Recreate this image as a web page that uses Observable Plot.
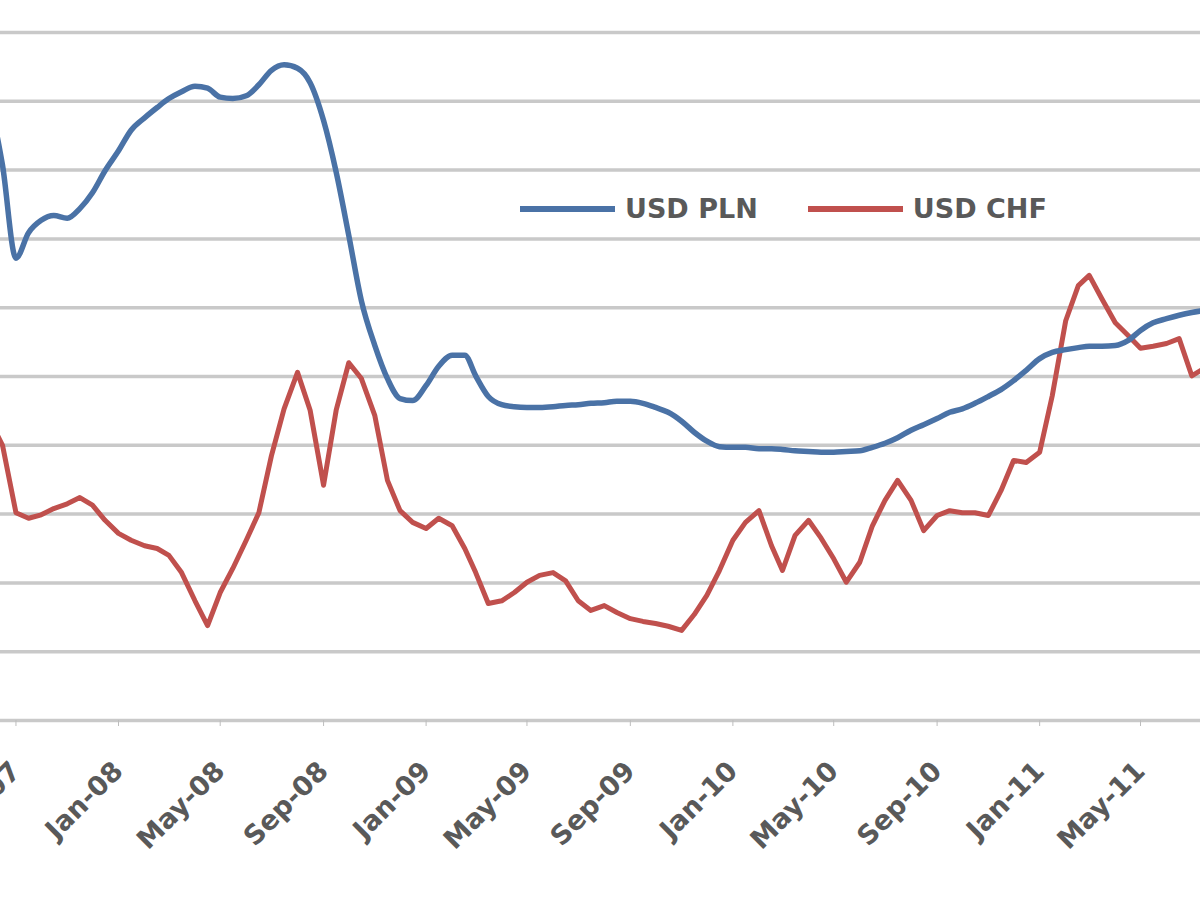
<!DOCTYPE html>
<html>
<head>
<meta charset="utf-8">
<script src="https://cdn.jsdelivr.net/npm/d3@7"></script>
<script src="https://cdn.jsdelivr.net/npm/@observablehq/plot@0.6"></script>
<style>
  html, body { margin: 0; padding: 0; background: #fff; }
  #wrap { position: relative; width: 1200px; height: 923px; overflow: hidden; }
  #wrap svg { overflow: hidden; display: block; }
  #legend { position: absolute; left: 520px; top: 193px; display: flex; align-items: center;
            font-family: "DejaVu Sans", sans-serif; font-weight: bold; font-size: 27px; color: #595959; }
  .sw { display: inline-block; width: 95px; height: 6px; margin-right: 10px; }
  .item { display: flex; align-items: center; margin-right: 50px; }
</style>
</head>
<body>
<div id="wrap">
  <div id="chart"></div>
  <div id="legend"></div>
</div>
<script>
// Series names
const seriesNames = ["USD PLN", "USD CHF"];
const seriesColors = ["#4a72a6", "#c0504d"];

// Observation dates: 1st and 16th of each month, Aug 2007 – Jul 2011
const months = d3.utcMonths(new Date(Date.UTC(2007, 7, 1)), new Date(Date.UTC(2011, 7, 1)));
const dates = months.flatMap(m => [m, d3.utcDay.offset(m, 15)]);

// Blue series (grid units)
const usdPln = [
  9.00, 8.07, 6.72, 7.09, 7.27, 7.34, 7.30, 7.44, 7.67, 7.99,
  8.28, 8.58, 8.76, 8.91, 9.04, 9.14, 9.22, 9.19, 9.06, 9.04, 9.08, 9.24,
  9.45, 9.53, 9.48, 9.27, 8.72, 7.97, 7.05, 6.10, 5.45, 4.97, 4.68, 4.65,
  4.87, 5.15, 5.31, 5.31, 5.01, 4.71, 4.59, 4.56, 4.55, 4.55, 4.56, 4.58,
  4.59, 4.61, 4.62, 4.64, 4.64, 4.61, 4.55, 4.48, 4.35, 4.19, 4.06, 3.98,
  3.97, 3.97, 3.95, 3.95, 3.94, 3.92, 3.91, 3.90, 3.90, 3.91, 3.92, 3.97,
  4.03, 4.11, 4.22, 4.30, 4.39, 4.48, 4.53, 4.61, 4.71, 4.81, 4.94, 5.09,
  5.26, 5.35, 5.39, 5.42, 5.44, 5.44, 5.45, 5.52, 5.67, 5.78, 5.84, 5.89, 5.93, 5.96
];

// Red series (grid units)
const usdChf = [
  4.36, 4.00, 3.02, 2.94, 2.99, 3.08, 3.15, 3.24, 3.13, 2.91,
  2.72, 2.62, 2.54, 2.50, 2.40, 2.15, 1.74, 1.38, 1.86, 2.21, 2.62, 3.02,
  3.85, 4.53, 5.06, 4.51, 3.42, 4.51, 5.20, 4.97, 4.43, 3.49, 3.05, 2.88,
  2.79, 2.94, 2.83, 2.50, 2.15, 1.70, 1.74, 1.86, 2.01, 2.11, 2.15, 2.03,
  1.74, 1.60, 1.67, 1.57, 1.48, 1.44, 1.41, 1.37, 1.31, 1.54, 1.82, 2.18,
  2.62, 2.88, 3.05, 2.54, 2.18, 2.69, 2.91, 2.65, 2.35, 2.01, 2.30, 2.83,
  3.20, 3.49, 3.20, 2.76, 2.98, 3.05, 3.02, 3.02, 2.98, 3.34, 3.78, 3.75,
  3.90, 4.72, 5.81, 6.32, 6.47, 6.13, 5.78, 5.60, 5.41, 5.44, 5.48, 5.55, 5.01, 5.12
];

// X tick dates and labels
const tickDates = ["2007-09-01","2008-01-01","2008-05-01","2008-09-01","2009-01-01","2009-05-01",
  "2009-09-01","2010-01-01","2010-05-01","2010-09-01","2011-01-01","2011-05-01"].map(s => new Date(s + "T00:00:00Z"));
const tickLabels = ["Sep-07","Jan-08","May-08","Sep-08","Jan-09","May-09",
  "Sep-09","Jan-10","May-10","Sep-10","Jan-11","May-11"];

const gridValues = [0,1,2,3,4,5,6,7,8,9,10];

const rows = [];
dates.forEach((d, i) => {
  rows.push({date: d, value: usdPln[i], series: seriesNames[0]});
  rows.push({date: d, value: usdChf[i], series: seriesNames[1]});
});

const chart = Plot.plot({
  width: 1200,
  height: 923,
  marginTop: 32,
  marginBottom: 203,
  marginLeft: 0,
  marginRight: 0,
  style: {fontFamily: "DejaVu Sans, sans-serif", background: "#fff"},
  x: {type: "utc", domain: [new Date(Date.UTC(2008,0,1)), new Date(Date.UTC(2011,4,1))], range: [118, 1140]},
  y: {domain: [0, 10], axis: null},
  color: {domain: seriesNames, range: seriesColors},
  marks: [
    Plot.gridY(gridValues, {stroke: "#c9c9c9", strokeOpacity: 1, strokeWidth: 3.5}),
    Plot.axisX({
      ticks: tickDates,
      tickFormat: (d) => tickLabels[tickDates.findIndex(t => +t === +d)],
      tickRotate: -45,
      fontSize: 27,
      fontWeight: "bold",
      fill: "#595959",
      stroke: "#bdbdbd",
      tickSize: 6,
      tickPadding: 40,
      label: null
    }),
    Plot.lineY(rows.filter(r => r.series === seriesNames[1]), {x: "date", y: "value", stroke: "series", strokeWidth: 5, strokeLinejoin: "round"}),
    Plot.lineY(rows.filter(r => r.series === seriesNames[0]), {x: "date", y: "value", stroke: "series", strokeWidth: 5.5, curve: "monotone-x"})
  ]
});
document.getElementById("chart").appendChild(chart);

const legend = document.getElementById("legend");
seriesNames.forEach((name, i) => {
  const item = document.createElement("div");
  item.className = "item";
  const sw = document.createElement("span");
  sw.className = "sw";
  sw.style.background = seriesColors[i];
  const t = document.createElement("span");
  t.textContent = name;
  item.appendChild(sw);
  item.appendChild(t);
  legend.appendChild(item);
});
</script>
</body>
</html>
